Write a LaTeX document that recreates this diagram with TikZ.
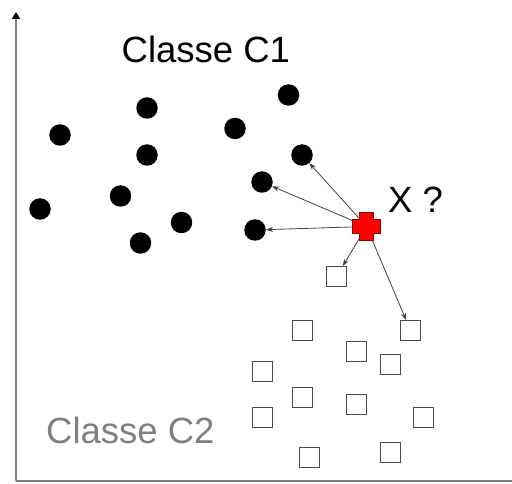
\documentclass[tikz,border=0pt]{standalone}
\usepackage{fontspec}
\setmainfont{Liberation Sans}
\usetikzlibrary{arrows.meta,backgrounds}
\begin{document}
\begin{tikzpicture}[x=1pt,y=-1pt,
  dot/.style={circle,fill=black,inner sep=0pt,minimum size=21.5pt},
  sq/.style={rectangle,draw=black!70,line width=1pt,fill=white,inner sep=0pt,minimum size=20pt},
  link/.style={draw=black!75,line width=0.8pt,-{Stealth[length=7pt,width=5pt]}},
  axis/.style={draw=black!50,line width=2pt},
  lab/.style={font=\fontsize{36.5}{40}\selectfont,inner sep=0pt,anchor=base west}]
\useasboundingbox (0,0) rectangle (512,484);
% axes
\coordinate (O) at (16,481);
\coordinate (Ytop) at (16,12);
\coordinate (Xend) at (512,481);
\draw[axis,-{Triangle[length=7pt,width=8pt,black]}] (O) -- (Ytop);
\draw[axis] (O) -- (Xend);
% labels
\node[lab] (c1) at (121.5,63) {Classe C1};
\node[lab,text=black!50] (c2) at (46,443.3) {Classe C2};
\node[lab] (q) at (388,213) {X ?};
% class C1 dots
\node[dot] (a1) at (147,108) {};
\node[dot] (a2) at (60,135) {};
\node[dot] (a3) at (147,155) {};
\node[dot] (a4) at (120.5,196) {};
\node[dot] (a5) at (40,209) {};
\node[dot] (a6) at (140.5,243) {};
\node[dot] (a7) at (288.5,95) {};
\node[dot] (a8) at (235,128.5) {};
\node[dot] (a9) at (302,155) {};
\node[dot] (a10) at (262,182) {};
\node[dot] (a11) at (181.5,222.5) {};
\node[dot] (a12) at (255,230) {};
% class C2 squares
\node[sq] (b1) at (336.5,276.5) {};
\node[sq] (b2) at (302.5,330.5) {};
\node[sq] (b3) at (410.5,330.5) {};
\node[sq] (b4) at (356,351) {};
\node[sq] (b5) at (390,364) {};
\node[sq] (b6) at (262,371) {};
\node[sq] (b7) at (302.5,397.5) {};
\node[sq] (b8) at (356,404) {};
\node[sq] (b9) at (262,417.5) {};
\node[sq] (b10) at (423,417.5) {};
\node[sq] (b11) at (390,452) {};
\node[sq] (b12) at (309,457.5) {};
% query point
\coordinate (X) at (366.5,226.5);
\begin{scope}[on background layer]
\foreach \t in {a9,a10,a12,b1,b3} \draw[link] (X) -- (\t);
\end{scope}
\draw[fill=red,draw=red!55!black,line width=0.6pt] (X) ++(-7,-14) -- ++(14,0) -- ++(0,7) -- ++(7,0) -- ++(0,14) -- ++(-7,0) -- ++(0,7) -- ++(-14,0) -- ++(0,-7) -- ++(-7,0) -- ++(0,-14) -- ++(7,0) -- cycle;
\end{tikzpicture}
\end{document}
